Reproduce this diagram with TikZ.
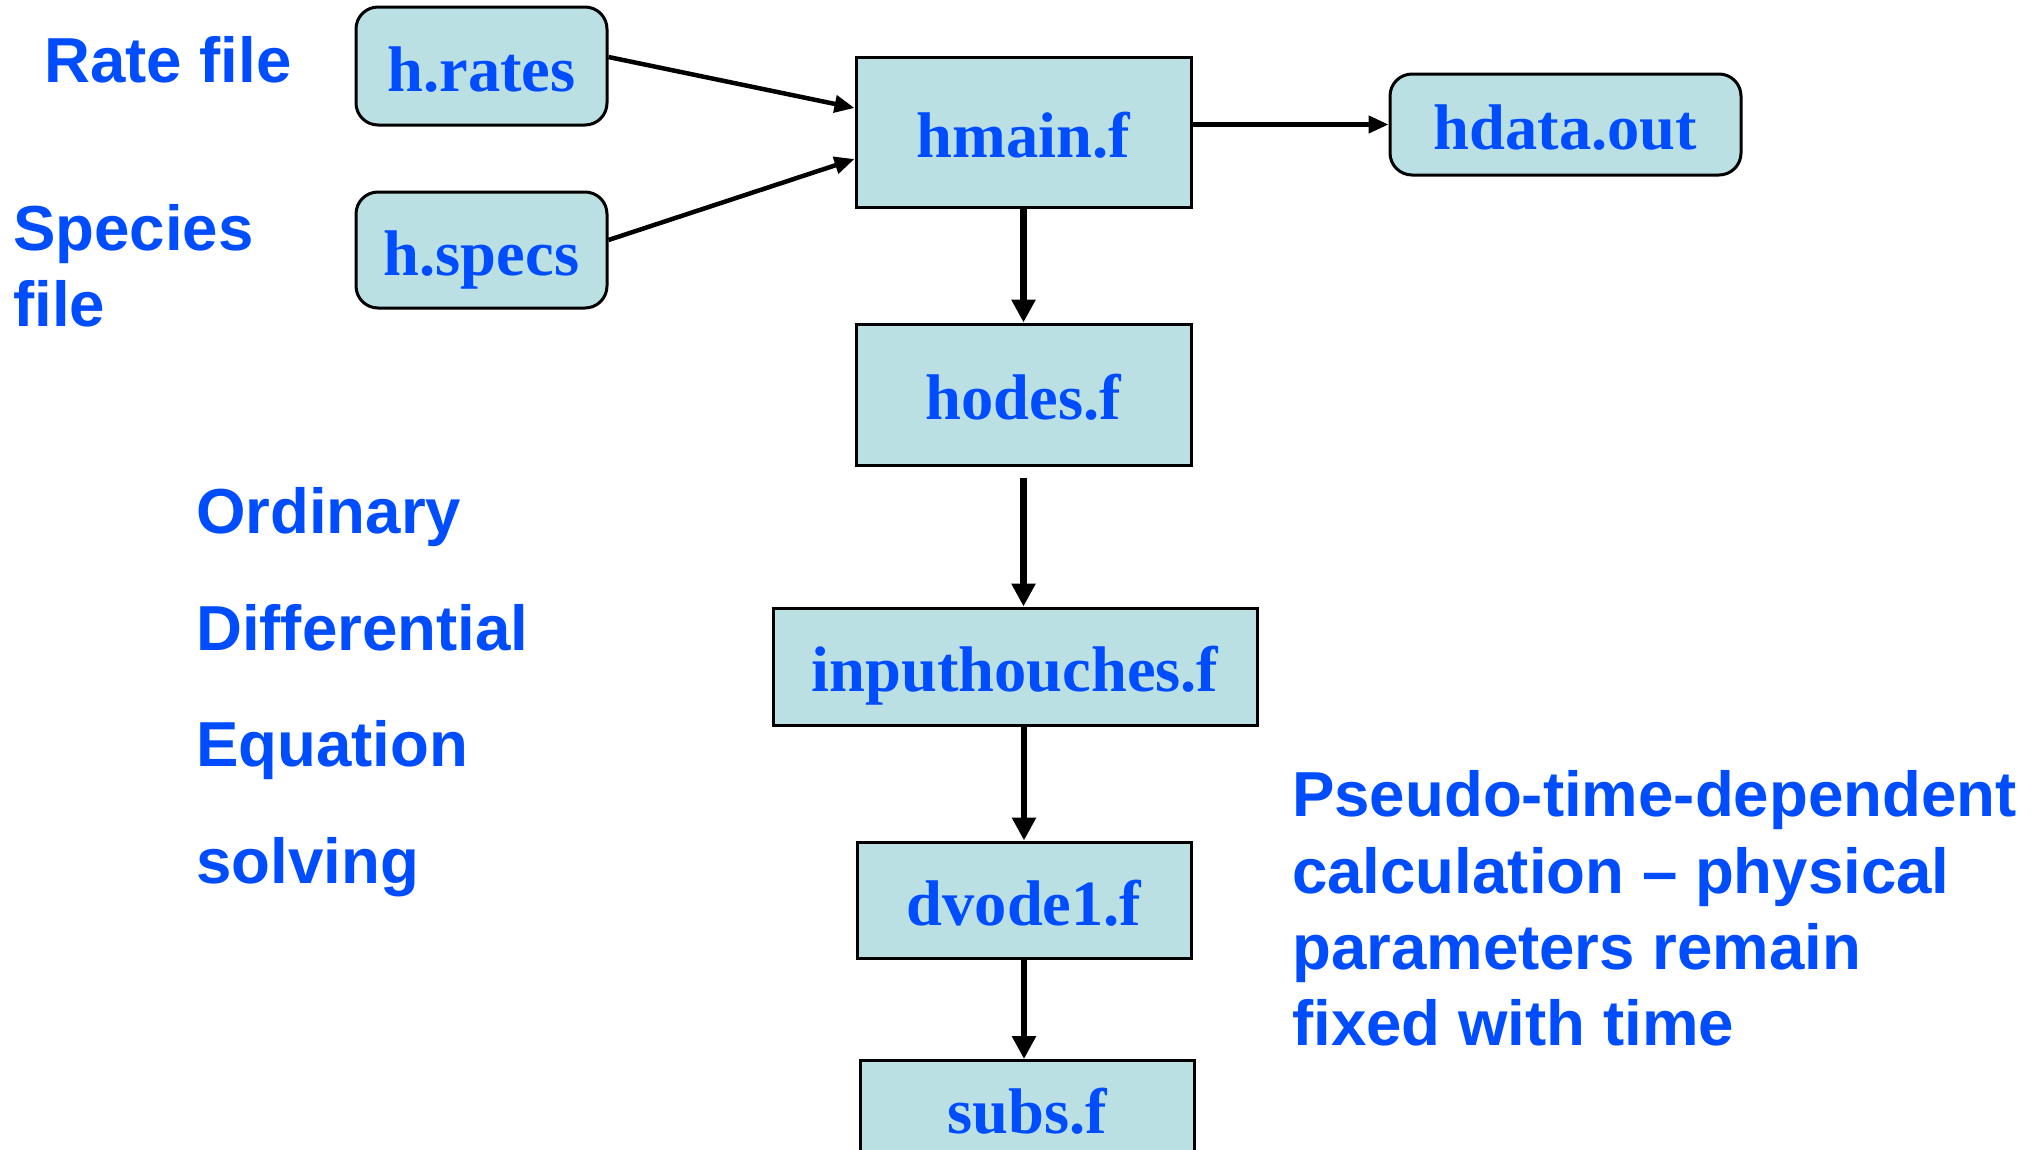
\documentclass[tikz,border=0pt]{standalone}
\usepackage{fontspec}
\newfontfamily\sansb{Liberation Sans}
\newfontfamily\serifb{Liberation Serif}
\usetikzlibrary{arrows.meta}
\definecolor{boxfill}{RGB}{186,224,227}
\definecolor{txtblue}{RGB}{0,76,255}
\begin{document}
\begin{tikzpicture}[x=1pt,y=-1pt,
  boxstyle/.style={draw=black, line width=3pt, fill=boxfill, inner sep=0pt,
    text=txtblue, font=\serifb\bfseries\fontsize{64.5}{64.5}\selectfont,
    text height=50pt, text depth=0pt},
  filebox/.style={boxstyle, rounded corners=22pt},
  lbl/.style={anchor=base west, inner sep=0pt, text=txtblue,
    font=\sansb\bfseries\fontsize{63.6}{63.6}\selectfont},
  conn/.style={line width=6.5pt, -{Triangle[length=23pt,width=23pt]}},
  sideconn/.style={line width=4.5pt, -{Triangle[length=20pt,width=17pt]}}
]
\useasboundingbox (0,0) rectangle (2043,1149);

% file boxes
\node[filebox, minimum width=251pt, minimum height=118pt] (hrates) at (481.5,66) {h.rates};
\node[filebox, minimum width=251pt, minimum height=116pt] (hspecs) at (481.5,250) {h.specs};
\node[filebox, minimum width=351pt, minimum height=101pt] (hdata) at (1565.5,124.5) {hdata.out};

% program boxes
\node[boxstyle, minimum width=335pt, minimum height=150pt] (hmain) at (1023.5,132) {hmain.f};
\node[boxstyle, minimum width=335pt, minimum height=141pt] (hodes) at (1023.5,394.5) {hodes.f};
\node[boxstyle, minimum width=484pt, minimum height=117pt] (inp) at (1015,666.5) {inputhouches.f};
\node[boxstyle, minimum width=334pt, minimum height=116pt] (dvode) at (1024,900) {dvode1.f};
\node[boxstyle, minimum width=334pt, minimum height=200pt, text depth=104pt, anchor=north] (subs) at (1027,1059) {subs.f};

% connectors
\draw[sideconn] ([yshift=9pt]hrates.east) -- ([yshift=24pt]hmain.west);
\draw[sideconn] ([yshift=10pt]hspecs.east) -- ([yshift=-27pt]hmain.west);
\draw[sideconn] (hmain.east |- hdata.west) -- (hdata.west);
\draw[conn] (hmain.south) -- (hodes.north);
\draw[conn, shorten <=11pt] (hodes.south) -- (hodes.south |- inp.north);
\draw[conn] (dvode.north |- inp.south) -- (dvode.north);
\draw[conn] (dvode.south) -- (dvode.south |- subs.north);

% labels
\node[lbl] (lrate) at (44,82) {Rate file};
\node[lbl] (lspec1) at (13,250) {Species};
\node[lbl] (lspec2) at (13,326) {file};
\node[lbl] (lode1) at (196,533) {Ordinary};
\node[lbl] (lode2) at (196,650) {Differential};
\node[lbl] (lode3) at (196,766) {Equation};
\node[lbl] (lode4) at (196,883) {solving};
\node[lbl] (lps1) at (1292,816) {Pseudo-time-dependent};
\node[lbl] (lps2) at (1292,893) {calculation – physical};
\node[lbl] (lps3) at (1292,969) {parameters remain};
\node[lbl] (lps4) at (1292,1045) {fixed with time};
\end{tikzpicture}
\end{document}
